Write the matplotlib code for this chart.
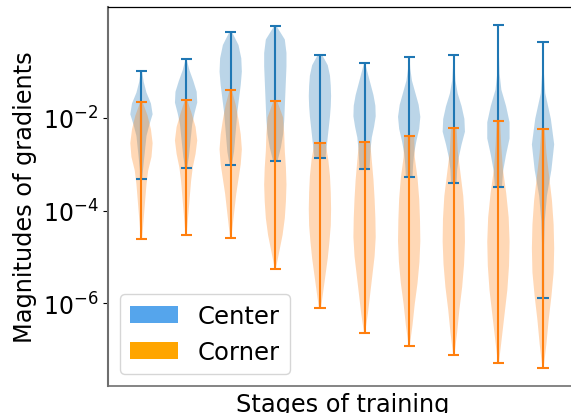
import numpy as np
import matplotlib
matplotlib.use("Agg")
import matplotlib.pyplot as plt
from matplotlib.patches import Patch
from matplotlib.ticker import FixedLocator, NullLocator

stages = [1, 2, 3, 4, 5, 6, 7, 8, 9, 10]

# log10 of the largest / smallest gradient magnitude at each stage
center_max_exp = [-0.985, -0.732, -0.136, -0.013, -0.639, -0.819, -0.676, -0.646, 0.015, -0.359]
center_min_exp = [-3.324, -3.073, -3.015, -2.929, -2.857, -3.108, -3.274, -3.397, -3.497, -5.888]
corner_max_exp = [-1.654, -1.611, -1.395, -1.626, -2.546, -2.512, -2.395, -2.216, -2.058, -2.231]
corner_min_exp = [-4.620, -4.527, -4.598, -5.255, -6.097, -6.637, -6.924, -7.125, -7.285, -7.406]

# relative density, sampled at evenly spaced levels from the maximum down to the minimum
center_density = [
    [0.05, 0.20, 0.45, 0.85, 1.00, 0.70, 0.45, 0.35, 0.25, 0.15, 0.05],
    [0.05, 0.30, 0.65, 0.95, 1.00, 0.75, 0.55, 0.45, 0.35, 0.25, 0.10],
    [0.10, 0.70, 0.95, 1.00, 0.90, 0.75, 0.60, 0.50, 0.40, 0.30, 0.10],
    [0.10, 0.85, 1.00, 1.00, 0.95, 0.90, 0.85, 0.80, 0.70, 0.50, 0.20],
    [0.20, 0.70, 0.90, 0.97, 1.00, 0.97, 0.90, 0.80, 0.70, 0.60, 0.50],
    [0.05, 0.30, 0.55, 0.80, 0.97, 1.00, 0.85, 0.65, 0.55, 0.50, 0.45],
    [0.03, 0.10, 0.25, 0.55, 0.85, 1.00, 0.90, 0.65, 0.45, 0.35, 0.30],
    [0.03, 0.08, 0.15, 0.35, 0.70, 0.95, 1.00, 0.70, 0.45, 0.30, 0.25],
    [0.02, 0.03, 0.05, 0.10, 0.25, 0.65, 0.95, 0.95, 0.65, 0.40, 0.30],
    [0.02, 0.05, 0.20, 0.70, 1.00, 0.75, 0.35, 0.15, 0.08, 0.05, 0.03],
]
corner_density = [
    [0.10, 0.55, 0.85, 1.00, 0.90, 0.60, 0.45, 0.35, 0.25, 0.15, 0.05],
    [0.10, 0.50, 0.85, 1.00, 0.85, 0.60, 0.45, 0.35, 0.25, 0.15, 0.05],
    [0.10, 0.45, 0.70, 0.90, 1.00, 0.90, 0.70, 0.50, 0.35, 0.20, 0.05],
    [0.15, 0.70, 0.80, 0.85, 0.95, 1.00, 0.95, 0.85, 0.65, 0.35, 0.05],
    [0.50, 0.75, 0.90, 0.97, 1.00, 0.97, 0.85, 0.70, 0.50, 0.30, 0.10],
    [0.50, 0.65, 0.80, 0.90, 0.97, 1.00, 0.90, 0.70, 0.50, 0.30, 0.05],
    [0.45, 0.50, 0.75, 0.90, 0.97, 1.00, 0.92, 0.75, 0.50, 0.30, 0.05],
    [0.25, 0.35, 0.60, 0.85, 0.97, 1.00, 0.92, 0.75, 0.50, 0.30, 0.05],
    [0.15, 0.25, 0.40, 0.70, 0.92, 1.00, 0.95, 0.80, 0.55, 0.30, 0.05],
    [0.15, 0.30, 0.55, 0.80, 0.95, 1.00, 0.95, 0.75, 0.50, 0.30, 0.05],
]

series_labels = ["Center", "Corner"]
legend_colors = ["#55a5ec", "orange"]


def violin_stats(max_exp, min_exp, density):
    stats = []
    for hi, lo, dens in zip(max_exp, min_exp, density):
        dens = np.asarray(dens, dtype=float)
        levels = np.linspace(hi, lo, len(dens))
        coords = 10.0 ** levels
        mode = coords[np.argmax(dens)]
        stats.append(dict(coords=coords, vals=dens, mean=mode, median=mode,
                          min=10.0 ** lo, max=10.0 ** hi))
    return stats


fig = plt.figure(figsize=(5.71, 4.14), dpi=100)
ax = fig.add_axes([108 / 571, 1 - 387 / 414, 468.5 / 571, 379 / 414])

ax.set_yscale("log")
ax.violin(violin_stats(center_max_exp, center_min_exp, center_density),
          positions=stages, widths=0.5)
ax.violin(violin_stats(corner_max_exp, corner_min_exp, corner_density),
          positions=stages, widths=0.5)

ax.set_xlim(0.25, 10.75)
ax.set_ylim(10 ** -7.79, 10 ** 0.397)
ax.set_xticks([])
ax.yaxis.set_major_locator(FixedLocator([1e-6, 1e-4, 1e-2]))
ax.yaxis.set_minor_locator(NullLocator())
ax.tick_params(axis="y", labelsize=17)

ax.spines["left"].set_color("#6e6e6e")
ax.spines["left"].set_linewidth(1.5)
ax.spines["bottom"].set_color("#707070")
ax.spines["bottom"].set_linewidth(1.2)
ax.spines["top"].set_color("black")
ax.spines["top"].set_linewidth(0.9)

ax.set_xlabel("Stages of training", fontsize=17.3)
ax.set_ylabel("Magnitudes of gradients", fontsize=17.3)

handles = [Patch(facecolor=c, label=l) for c, l in zip(legend_colors, series_labels)]
ax.legend(handles=handles, loc="lower left", fontsize=17.5)

fig.savefig("out.png", dpi=100)
